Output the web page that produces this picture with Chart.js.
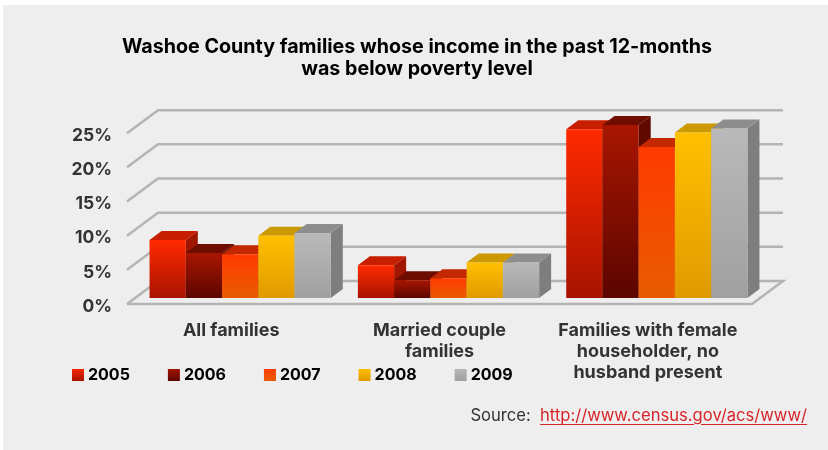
<!DOCTYPE html>
<html>
<head>
<meta charset="utf-8">
<title>Washoe County poverty</title>
<style>
html, body { margin: 0; padding: 0; background: #fff; }
#panel { position: absolute; left: 3px; top: 5px; width: 825px; height: 445px; background: #eeeeee; }
#wrap { position: absolute; left: 3px; top: 0; width: 825px; height: 450px; }
#fuente { position: absolute; right: 21px; top: 405px; font: 16.6px Inter, sans-serif; color: #333; white-space: pre; }
#fuente a { color: #d8232a; text-decoration: underline; text-underline-offset: 3px; }
</style>
<script src="https://cdn.jsdelivr.net/npm/chart.js@4/dist/chart.umd.js"></script>
</head>
<body>
<div id="panel"></div>
<div id="wrap"><canvas id="grafica" width="825" height="450"></canvas></div>
<div id="fuente">Source:  <a href="http://www.census.gov/acs/www/">http://www.census.gov/acs/www/</a></div>
<script>
var categorias = [
    'All families',
    ['Married couple', 'families'],
    ['Families with female', 'householder, no', 'husband present']
];
var anios = ['2005', '2006', '2007', '2008', '2009'];
var valores2005 = [8.5, 4.8, 24.7];
var valores2006 = [6.6, 2.6, 25.3];
var valores2007 = [6.4, 2.9, 22.1];
var valores2008 = [9.1, 5.2, 24.2];
var valores2009 = [9.5, 5.2, 24.8];
var series = [valores2005, valores2006, valores2007, valores2008, valores2009];

var colorArriba = ['#ff2a00', '#a81600', '#ff3a00', '#ffc000', '#b9b9b9'];
var colorAbajo = ['#a81300', '#5c0500', '#e85c00', '#e09a00', '#a0a0a0'];
var colorTapa = ['#c81e00', '#6e0c00', '#c42800', '#cc9a00', '#8e8e8e'];
var colorLado = ['#a01600', '#5e0a00', '#a82000', '#b08400', '#7e7e7e'];

// profundidad de las paredes y de las barras
var fondoX = 31, fondoY = -23;
var barraX = 9, barraY = -6;
var cajaX = 12, cajaY = -9;

function gradiente(ctx, y0, y1, i) {
    var g = ctx.createLinearGradient(0, y0, 0, y1);
    g.addColorStop(0, colorArriba[i]);
    g.addColorStop(1, colorAbajo[i]);
    return g;
}

var caja3d = {
    id: 'caja3d',
    afterUpdate: function (chart) {
        // baja los porcentajes para que queden al pie de cada diagonal
        chart.scales.y.getLabelItems().forEach(function (item) {
            item.options.translation[1] += 2.5;
        });
    },
    beforeDraw: function (chart) {
        // la leyenda va encima de las etiquetas del eje
        var l = chart.legend;
        var ancho = l.right - l.left;
        l.left = 31;
        l.right = l.left + ancho;
        l.top = 325;
        // el titulo se centra en todo el panel, no en el area del eje
        chart.titleBlock.left = 0;
        chart.titleBlock.right = 828;
        // las etiquetas de tres lineas no caben en la caja del eje
        chart.scales.x.bottom = 450;
    },
    beforeDatasetsDraw: function (chart) {
        var ctx = chart.ctx;
        var y = chart.scales.y;
        var a = chart.chartArea;

        // paredes y piso
        ctx.save();
        ctx.strokeStyle = '#b4b4b4';
        ctx.lineWidth = 2.5;
        y.ticks.forEach(function (t) {
            var py = y.getPixelForValue(t.value);
            ctx.beginPath();
            ctx.moveTo(a.left, py);
            ctx.lineTo(a.left + fondoX, py + fondoY);
            ctx.lineTo(a.right + fondoX, py + fondoY);
            if (t.value === 0) {
                ctx.lineTo(a.right, py);
                ctx.lineTo(a.left, py);
            }
            ctx.stroke();
        });
        ctx.restore();

        // las barras se dibujan de izquierda a derecha para que se tapen bien
        ctx.save();
        ctx.translate(barraX, barraY);
        categorias.forEach(function (c, j) {
            anios.forEach(function (n, i) {
                var el = chart.getDatasetMeta(i).data[j];
                var x0 = el.x - el.width / 2, x1 = el.x + el.width / 2;

                ctx.fillStyle = colorLado[i];
                ctx.beginPath();
                ctx.moveTo(x1, el.y);
                ctx.lineTo(x1 + cajaX, el.y + cajaY);
                ctx.lineTo(x1 + cajaX, el.base + cajaY);
                ctx.lineTo(x1, el.base);
                ctx.closePath();
                ctx.fill();

                ctx.fillStyle = colorTapa[i];
                ctx.beginPath();
                ctx.moveTo(x0, el.y);
                ctx.lineTo(x0 + cajaX, el.y + cajaY);
                ctx.lineTo(x1 + cajaX, el.y + cajaY);
                ctx.lineTo(x1, el.y);
                ctx.closePath();
                ctx.fill();

                el.draw(ctx);
            });
        });
        ctx.restore();
        return false;
    }
};

var datos = anios.map(function (n, i) {
    return {
        label: n,
        data: series[i],
        borderWidth: 0,
        categoryPercentage: 0.87,
        barPercentage: 1,
        backgroundColor: function (c) {
            if (c.type !== 'data') {
                return colorArriba[i];
            }
            var y = c.chart.scales.y;
            return gradiente(c.chart.ctx, y.getPixelForValue(c.parsed.y), y.getPixelForValue(0), i);
        }
    };
});

new Chart(document.getElementById('grafica').getContext('2d'), {
    type: 'bar',
    data: { labels: categorias, datasets: datos },
    plugins: [caja3d],
    options: {
        responsive: false,
        animation: false,
        layout: { padding: { left: 0, right: 76, top: 0, bottom: 0 } },
        plugins: {
            tooltip: { enabled: false },
            title: {
                display: true,
                text: ['Washoe County families whose income in the past 12-months', 'was below poverty level'],
                color: '#000',
                font: { family: 'Inter', size: 19.7, weight: 'bold', lineHeight: 1.07 },
                padding: { top: 37, bottom: 54 }
            },
            legend: {
                position: 'bottom',
                align: 'start',
                labels: {
                    color: '#000',
                    font: { family: 'Inter', size: 16, weight: 'bold' },
                    boxWidth: 4,
                    boxHeight: 4,
                    padding: 42,
                    generateLabels: function (chart) {
                        return anios.map(function (n, i) {
                            var g = gradiente(chart.ctx, 368, 381, i);
                            return { text: n, fillStyle: g, strokeStyle: g, lineWidth: 8, datasetIndex: i, fontColor: '#000' };
                        });
                    }
                }
            }
        },
        scales: {
            x: {
                border: { display: false },
                grid: { display: false },
                afterFit: function (s) { s.height = 78; },
                ticks: {
                    color: '#333',
                    padding: 8,
                    maxRotation: 0,
                    autoSkip: false,
                    font: { family: 'Inter', size: 18, weight: 'bold', lineHeight: 1.17 }
                }
            },
            y: {
                min: 0,
                max: 25,
                border: { display: false },
                grid: { display: false },
                afterFit: function (s) { s.width = 124; },
                ticks: {
                    stepSize: 5,
                    color: '#333',
                    padding: 7,
                    font: { family: 'Inter', size: 17.5, weight: 'bold' },
                    callback: function (v) { return v + '%'; }
                }
            }
        }
    }
});
</script>
</body>
</html>
